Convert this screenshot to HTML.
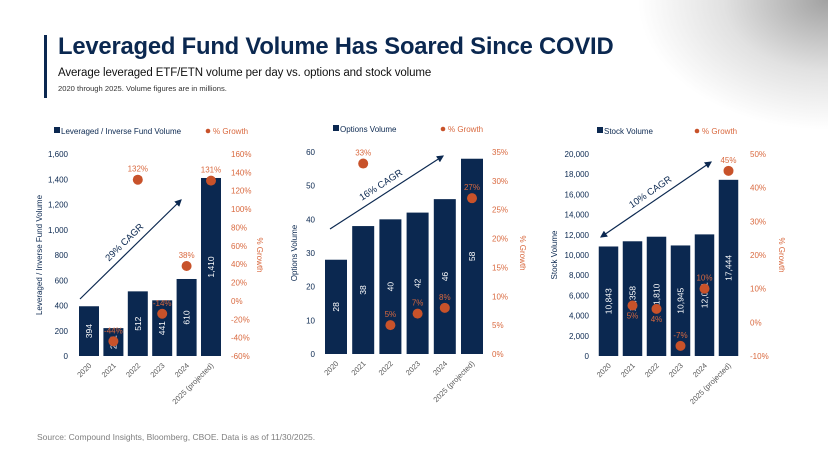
<!DOCTYPE html>
<html><head><meta charset="utf-8">
<style>
body{margin:0;width:828px;height:468px;overflow:hidden;background:#fff;font-family:"Liberation Sans",sans-serif;position:relative}
.shade{position:absolute;right:0;top:0;width:220px;height:130px;background:radial-gradient(ellipse 190px 130px at 100% 0%,rgba(130,130,130,0.75),rgba(170,170,170,0.35) 55%,rgba(255,255,255,0) 100%)}
.bar{position:absolute;left:44px;top:35px;width:3px;height:63px;background:#0b2850}
h1{position:absolute;left:58px;top:33px;margin:0;font-size:23.8px;font-weight:bold;color:#0b2850;letter-spacing:-0.2px}
.sub{position:absolute;left:58px;top:67px;font-size:11.5px;color:#111;letter-spacing:-0.1px}
.note{position:absolute;left:58px;top:84px;font-size:7.6px;color:#333}
.src{position:absolute;left:37px;top:432px;font-size:8.5px;color:#7f7f7f}
svg{position:absolute;left:0;top:0}
</style></head><body>
<div class="shade"></div>
<div class="bar"></div>
<h1>Leveraged Fund Volume Has Soared Since COVID</h1>
<div class="sub">Average leveraged ETF/ETN volume per day vs. options and stock volume</div>
<div class="note">2020 through 2025. Volume figures are in millions.</div>
<div class="src">Source: Compound Insights, Bloomberg, CBOE. Data is as of 11/30/2025.</div>
<svg id="svg" width="828" height="468"></svg>
<script>
const categories=["2020","2021","2022","2023","2024","2025 (projected)"];
const levVolume=[394,221,512,441,610,1410];
const levGrowth=[null,-44,132,-14,38,131];
const optVolume=[28,38,40,42,46,58];
const optGrowth=[null,33,5,7,8,27];
const stkVolume=[10843,11358,11810,10945,12041,17444];
const stkGrowth=[null,5,4,-7,10,45];
const levLeftTicks=[0,200,400,600,800,1000,1200,1400,1600];
const levRightTicks=[-60,-40,-20,0,20,40,60,80,100,120,140,160];
const optLeftTicks=[0,10,20,30,40,50,60];
const optRightTicks=[0,5,10,15,20,25,30,35];
const stkLeftTicks=[0,2000,4000,6000,8000,10000,12000,14000,16000,18000,20000];
const stkRightTicks=[-10,0,10,20,30,40,50];

const NAVY="#0b2850",OR="#c8522a",ORT="#d9693f";
const svg=document.getElementById('svg');
function el(t,a,p){const e=document.createElementNS("http://www.w3.org/2000/svg",t);for(const k in a)e.setAttribute(k,a[k]);(p||svg).appendChild(e);return e;}
function fmt(v){return v.toLocaleString('en-US');}

function chart(c){
  const g=el('g',{});
  
  
  const yL=v=>c.y0-(v-c.lmin)/(c.lmax-c.lmin)*(c.y0-c.y1);
  const yR=v=>c.y0-(v-c.rmin)/(c.rmax-c.rmin)*(c.y0-c.y1);
  const xC=i=>c.x0+c.step*i;
  const ls=el('rect',{x:c.legX,y:c.legY-7,width:6,height:6,fill:NAVY},g);
  
  const lt=el('text',{x:c.legX+7,y:c.legY,'font-size':8,fill:NAVY},g);lt.textContent=c.legend;
  
  const gd=el('circle',{cx:c.legX2,cy:c.legY-3,r:2.3,fill:OR},g);
  
  const gt=el('text',{x:c.legX2+5,y:c.legY,'font-size':8,fill:ORT},g);gt.textContent='% Growth';
  
  c.lt.forEach(v=>{const t=el('text',{x:c.lx,y:yL(v)+3,'font-size':8,fill:NAVY,'text-anchor':'end'},g);t.textContent=fmt(v);
    });
  c.rt.forEach(v=>{const t=el('text',{x:c.rx,y:yR(v)+3,'font-size':8,fill:ORT},g);t.textContent=v+'%';
    });
  const mid=(c.y0+c.y1)/2;
  const lti=el('text',{x:c.ltx,y:mid,'font-size':8,fill:NAVY,'text-anchor':'middle',transform:`rotate(-90 ${c.ltx} ${mid})`},g);lti.textContent=c.ltitle;
  
  const rti=el('text',{x:c.rtx,y:mid,'font-size':8,fill:ORT,'text-anchor':'middle',transform:`rotate(90 ${c.rtx} ${mid})`},g);rti.textContent='% Growth';
  
  c.vol.forEach((v,i)=>{
    const x=xC(i),top=yL(v);
    const b=el('rect',{x:x-c.bw/2,y:top,width:c.bw,height:c.y0-top,fill:NAVY},g);
    
    const cy=(top+c.y0)/2;
    const t=el('text',{x:x,y:cy,'font-size':8.5,fill:'#fff','text-anchor':'middle','dominant-baseline':'central',transform:`rotate(-90 ${x} ${cy})`},g);
    t.textContent=fmt(v);
    
    const xl=el('text',{x:x+3,y:c.y0+10,'font-size':7.5,fill:'#595959','text-anchor':'end',transform:`rotate(-45 ${x+3} ${c.y0+10})`},g);
    xl.textContent=categories[i];
    
  });
  c.gr.forEach((v,i)=>{
    if(v===null)return;
    const x=xC(i),y=yR(v);
    const d=el('circle',{cx:x,cy:y,r:5,fill:OR},g);
    
    const below=c.below.includes(i);
    const t=el('text',{x:x,y:below?y+13:y-8,'font-size':8,fill:ORT,'text-anchor':'middle'},g);
    t.textContent=v+'%';
    
  });
  const a=c.arrow;
  const ln=el('line',{x1:a[0],y1:a[1],x2:a[2],y2:a[3],stroke:NAVY,'stroke-width':1.2,'marker-end':'url(#ah)'},g);
  if(c.dbl)ln.setAttribute('marker-start','url(#ahs)');
  
  const ang=Math.atan2(a[3]-a[1],a[2]-a[0])*180/Math.PI;
  const mx=(a[0]+a[2])/2+c.tOff[0],my=(a[1]+a[3])/2+c.tOff[1];
  const ct=el('text',{x:mx,y:my,'font-size':9.5,fill:NAVY,'text-anchor':'middle',transform:`rotate(${ang} ${mx} ${my})`},g);
  ct.textContent=c.cagr;
  
}
const defs=el('defs',{});
const m=el('marker',{id:'ah',markerWidth:6,markerHeight:6,refX:5,refY:3,orient:'auto'},defs);
el('path',{d:'M0,0 L6,3 L0,6 z',fill:NAVY},m);
const m2=el('marker',{id:'ahs',markerWidth:6,markerHeight:6,refX:1,refY:3,orient:'auto'},defs);
el('path',{d:'M6,0 L0,3 L6,6 z',fill:NAVY},m2);

chart({id:'leveraged',vol:levVolume,gr:levGrowth,lt:levLeftTicks,rt:levRightTicks,lmin:0,lmax:1600,rmin:-60,rmax:160,
  y0:356,y1:154,x0:89,step:24.4,bw:20,lx:68,rx:231,ltx:42,rtx:257,ltitle:'Leveraged / Inverse Fund Volume',
  legend:'Leveraged / Inverse Fund Volume',legX:54,legX2:208,legY:134,below:[],arrow:[80,299,181,200],tOff:[-4,-5],cagr:'29% CAGR',dbl:false});
chart({id:'options',vol:optVolume,gr:optGrowth,lt:optLeftTicks,rt:optRightTicks,lmin:0,lmax:60,rmin:0,rmax:35,
  y0:354,y1:152,x0:336,step:27.2,bw:22,lx:315,rx:492,ltx:297,rtx:520,ltitle:'Options Volume',
  legend:'Options Volume',legX:333,legX2:443,legY:132,below:[],arrow:[330,229,443,156],tOff:[-4,-5],cagr:'16% CAGR',dbl:false});
chart({id:'stock',vol:stkVolume,gr:stkGrowth,lt:stkLeftTicks,rt:stkRightTicks,lmin:0,lmax:20000,rmin:-10,rmax:50,
  y0:356,y1:154,x0:608.5,step:24,bw:19.5,lx:589,rx:750,ltx:557,rtx:779,ltitle:'Stock Volume',
  legend:'Stock Volume',legX:597,legX2:697,legY:134,below:[1,2],arrow:[601,237,711,162],tOff:[-4,-5],cagr:'10% CAGR',dbl:true});
</script>
</body></html>
